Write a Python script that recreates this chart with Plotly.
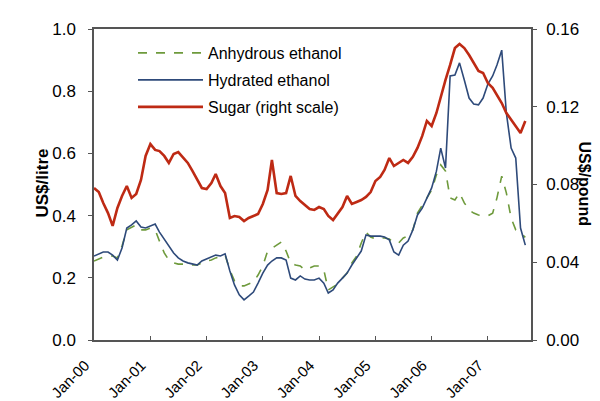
import pandas as pd
import plotly.graph_objects as go

start_month = "2000-01-01"

sugar = [0.0782, 0.0761, 0.0705, 0.0653, 0.0587, 0.0679, 0.0741, 0.0792, 0.0731, 0.0751,
         0.0823, 0.0947, 0.1008, 0.0978, 0.0972, 0.0947, 0.0911, 0.0957, 0.0967, 0.0936,
         0.0911, 0.0870, 0.0823, 0.0782, 0.0777, 0.0808, 0.0854, 0.0792, 0.0756, 0.0628,
         0.0638, 0.0633, 0.0612, 0.0628, 0.0638, 0.0648, 0.0700, 0.0772, 0.0926, 0.0756,
         0.0751, 0.0756, 0.0844, 0.0741, 0.0715, 0.0695, 0.0674, 0.0669, 0.0684, 0.0674,
         0.0638, 0.0617, 0.0653, 0.0684, 0.0741, 0.0700, 0.0710, 0.0720, 0.0736, 0.0761,
         0.0818, 0.0839, 0.0875, 0.0936, 0.0895, 0.0911, 0.0926, 0.0911, 0.0942, 0.0988,
         0.1050, 0.1127, 0.1101, 0.1168, 0.1255, 0.1338, 0.1415, 0.1502, 0.1523, 0.1502,
         0.1466, 0.1425, 0.1384, 0.1374, 0.1322, 0.1297, 0.1261, 0.1219, 0.1168, 0.1132,
         0.1096, 0.1065, 0.1127]

hydrated = [0.270, 0.277, 0.283, 0.283, 0.273, 0.257, 0.296, 0.360, 0.370, 0.383,
            0.363, 0.360, 0.367, 0.373, 0.347, 0.325, 0.302, 0.280, 0.264, 0.254,
            0.248, 0.244, 0.241, 0.254, 0.260, 0.267, 0.273, 0.270, 0.277, 0.222,
            0.177, 0.145, 0.129, 0.141, 0.154, 0.183, 0.215, 0.241, 0.254, 0.264,
            0.264, 0.257, 0.199, 0.193, 0.206, 0.196, 0.193, 0.193, 0.199, 0.183,
            0.151, 0.161, 0.183, 0.199, 0.215, 0.241, 0.264, 0.286, 0.338, 0.334,
            0.334, 0.334, 0.331, 0.322, 0.283, 0.273, 0.305, 0.318, 0.354, 0.402,
            0.424, 0.457, 0.489, 0.543, 0.617, 0.553, 0.849, 0.852, 0.891, 0.836,
            0.778, 0.759, 0.756, 0.778, 0.823, 0.849, 0.884, 0.932, 0.730, 0.617,
            0.585, 0.360, 0.305]

anhydrous = [0.254, 0.260, 0.267, 0.270, 0.270, 0.264, 0.302, 0.354, 0.363, 0.370,
             0.354, 0.354, 0.360, 0.354, 0.318, 0.280, 0.257, 0.248, 0.244, 0.244,
             0.241, 0.241, 0.241, 0.248, 0.254, 0.257, 0.264, 0.267, 0.273, 0.225,
             0.190, 0.174, 0.174, 0.180, 0.186, 0.209, 0.238, 0.286, 0.296, 0.305,
             0.315, 0.286, 0.248, 0.241, 0.238, 0.225, 0.232, 0.238, 0.238, 0.225,
             0.161, 0.170, 0.180, 0.199, 0.215, 0.248, 0.270, 0.312, 0.347, 0.331,
             0.325, 0.328, 0.328, 0.325, 0.312, 0.312, 0.328, 0.334, 0.354, 0.408,
             0.434, 0.457, 0.482, 0.531, 0.563, 0.543, 0.457, 0.450, 0.473, 0.441,
             0.418, 0.408, 0.402, 0.399, 0.399, 0.408, 0.457, 0.527, 0.473, 0.392,
             0.354, 0.344, 0.330]

tick_years = [2000, 2001, 2002, 2003, 2004, 2005, 2006, 2007]
tick_labels = ["Jan-00", "Jan-01", "Jan-02", "Jan-03", "Jan-04", "Jan-05", "Jan-06", "Jan-07"]

dates = pd.date_range(start=start_month, periods=len(sugar), freq="MS")
tick_vals = [f"{y}-01-01" for y in tick_years]

fig = go.Figure()
fig.add_trace(go.Scatter(x=dates, y=anhydrous, mode="lines", name="Anhydrous ethanol",
                         line=dict(color="#6E9A3C", width=1.6, dash="dash"), legend="legend"))
fig.add_trace(go.Scatter(x=dates, y=hydrated, mode="lines", name="Hydrated ethanol",
                         line=dict(color="#2E4A7A", width=1.6), legend="legend2"))
fig.add_trace(go.Scatter(x=dates, y=sugar, mode="lines", name="Sugar (right scale)",
                         line=dict(color="#BE2A14", width=2.6), yaxis="y2", legend="legend3"))

L, R, T, B = 86, 77, 21, 69
pw = 600 - L - R
ph = 401 - T - B


def px_x(x):
    return (x - L) / pw


def px_y(y):
    return (401 - B - y) / ph


axis_color = "#555555"
leg_common = dict(xanchor="left", yanchor="middle", bgcolor="rgba(0,0,0,0)",
                  font=dict(size=16), itemwidth=65, borderwidth=0)
fig.update_layout(
    width=600, height=401,
    margin=dict(l=L, r=R, t=T, b=B, autoexpand=False),
    paper_bgcolor="white", plot_bgcolor="white",
    font=dict(family="Liberation Sans, Arial, sans-serif", size=16, color="black"),
    showlegend=True,
    legend=dict(x=px_x(125), y=px_y(45), **leg_common),
    legend2=dict(x=px_x(125), y=px_y(72), **leg_common),
    legend3=dict(x=px_x(125), y=px_y(99), **leg_common),
    xaxis=dict(range=["2000-01-01", "2007-10-08"], tickvals=tick_vals, ticktext=tick_labels,
               tickangle=-45, ticks="inside", ticklen=4, tickcolor=axis_color,
               showline=True, linecolor=axis_color, linewidth=1.5, mirror=True,
               showgrid=False, zeroline=False, tickfont=dict(size=15),
               automargin=False, ticklabelstandoff=9, ticklabelshift=-9),
    yaxis=dict(range=[0, 1.0], tickvals=[0, 0.2, 0.4, 0.6, 0.8, 1.0], tickformat=".1f",
               ticks="outside", ticklen=4, tickcolor=axis_color,
               showline=True, linecolor=axis_color, linewidth=1.5, tickfont=dict(size=17),
               showgrid=False, zeroline=False, automargin=False, ticklabelstandoff=9),
    yaxis2=dict(range=[0, 0.16], tickvals=[0, 0.04, 0.08, 0.12, 0.16], tickformat=".2f",
                overlaying="y", side="right", ticks="outside", ticklen=4, tickcolor=axis_color,
                showline=True, linecolor=axis_color, linewidth=1.5, tickfont=dict(size=17),
                showgrid=False, zeroline=False, automargin=False, ticklabelstandoff=6),
)
fig.add_annotation(text="<b>US$/litre</b>", x=px_x(22), y=px_y(175),
                   xref="paper", yref="paper", showarrow=False, textangle=-90,
                   font=dict(size=17))
fig.add_annotation(text="<b>US$/pound</b>", x=px_x(587), y=px_y(175),
                   xref="paper", yref="paper", showarrow=False, textangle=90,
                   font=dict(size=16))

fig.write_html("out.html")
